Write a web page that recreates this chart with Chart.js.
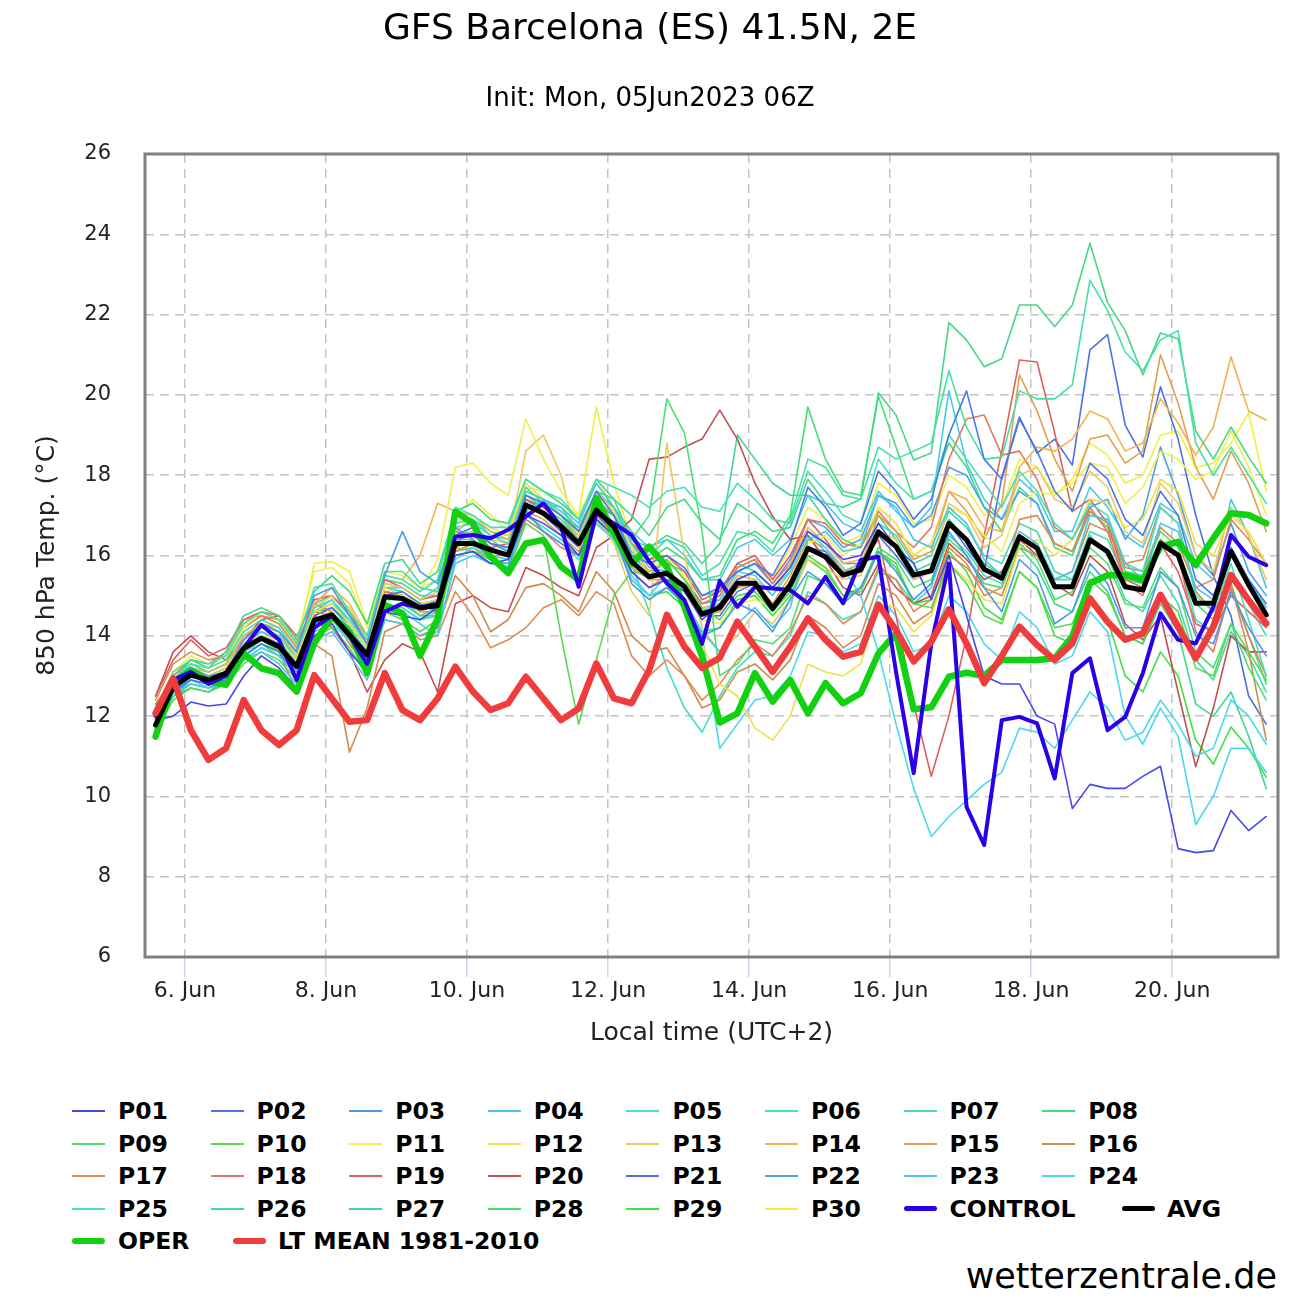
<!DOCTYPE html>
<html>
<head>
<meta charset="utf-8">
<title>GFS Barcelona ensemble</title>
<script src="https://cdn.jsdelivr.net/npm/chart.js@4.4.0/dist/chart.umd.min.js"></script>
<style>
  body { margin: 0; background: #fff; font-family: "DejaVu Sans", sans-serif; }
  #wrap { position: relative; width: 1300px; height: 1300px; overflow: hidden; }
  #chart { position: absolute; left: 0; top: 0; }
  .item { position: absolute; height: 34px; line-height: 34px; font-size: 23.5px; font-weight: bold; color: #000; white-space: nowrap; }
  .item i { position: absolute; left: 0; width: 33px; }
  .item span { position: absolute; left: 46px; top: 0; }
  #brand { position: absolute; right: 23px; top: 1256px; font-size: 35px; line-height: 40px; color: #000; }
</style>
</head>
<body>
<div id="wrap">
  <canvas id="chart" width="1300" height="1060"></canvas>
  <div id="legend"></div>
  <div id="brand">wetterzentrale.de</div>
</div>
<script>
// hours after 6 Jun 00:00 local time (UTC+2), one step every 6 h
const HOURS = [-10,-4,2,8,14,20,26,32,38,44,50,56,62,68,74,80,86,92,98,104,110,116,122,128,134,140,146,152,158,164,170,176,
  182,188,194,200,206,212,218,224,230,236,242,248,254,260,266,272,278,284,290,296,302,308,314,320,326,332,338,344,350,356,362,368];
const TICK_HOURS = [0, 48, 96, 144, 192, 240, 288, 336];
const TICK_LABELS = ['6. Jun', '8. Jun', '10. Jun', '12. Jun', '14. Jun', '16. Jun', '18. Jun', '20. Jun'];
const Y_MIN = 6, Y_MAX = 26, Y_STEP = 2;

// ensemble members, 850 hPa temperature (°C)
const P01 = [11.9,12.0,12.35,12.25,12.3,13.0,13.5,13.2,12.7,14.0,14.3,13.6,13.1,14.6,14.5,14.4,
  14.7,16.0,16.1,15.8,15.9,17.0,16.8,16.5,16.0,16.9,16.5,15.6,15.2,15.4,15.1,14.4,
  14.8,15.4,15.6,15.2,15.7,16.6,16.3,15.9,16.0,16.8,16.2,15.8,14.9,16.0,14.5,13.0,
  12.8,12.8,12.0,11.8,9.7,10.3,10.2,10.2,10.5,10.75,8.7,8.6,8.65,9.65,9.15,9.5];
const P02 = [11.9,12.6,12.9,12.8,12.9,13.5,13.8,13.6,13.0,14.2,14.5,14.1,13.6,15.0,15.1,14.8,
  14.6,16.5,16.7,16.3,16.2,17.5,17.3,17.0,16.6,17.6,17.0,16.0,15.8,16.0,15.7,15.0,
  15.2,15.6,15.8,15.5,16.3,17.7,17.2,16.5,16.8,18.1,17.6,16.9,17.4,19.0,20.1,18.4,
  17.9,19.4,18.6,17.6,17.1,18.3,17.9,16.9,16.5,17.6,17.0,15.4,15.0,16.2,15.4,14.8];
const P03 = [12.1,12.8,13.2,13.0,13.1,13.9,14.3,14.1,13.6,15.0,15.2,14.5,13.8,15.5,16.6,15.6,
  15.3,16.7,16.4,15.9,15.7,17.1,16.6,16.3,16.0,17.2,16.6,15.3,14.9,15.2,14.8,14.0,
  14.2,14.8,14.6,14.1,14.9,15.6,15.3,14.8,15.2,16.1,15.6,14.9,15.3,16.6,16.0,15.2,
  14.6,15.9,15.5,14.3,14.6,15.8,15.3,14.2,14.2,15.6,15.2,14.0,13.8,15.1,14.2,13.5];
const P04 = [11.7,12.6,12.8,12.7,12.9,13.4,13.6,13.3,12.8,13.9,14.1,13.5,12.9,14.4,14.3,14.0,
  14.1,15.8,16.0,15.8,15.8,17.1,17.4,17.2,16.8,17.8,17.2,16.3,15.7,15.6,14.9,14.1,
  13.6,14.3,14.7,14.2,14.7,16.4,16.6,16.1,16.2,17.5,17.2,16.4,16.2,17.2,16.8,15.9,
  15.5,16.6,16.3,15.4,15.6,17.0,16.9,15.8,15.4,16.8,16.6,15.2,14.9,16.1,15.4,14.7];
const P05 = [11.6,12.5,12.9,12.7,12.8,13.4,13.7,13.5,13.0,14.1,14.3,13.9,13.4,14.7,14.6,14.3,
  14.0,15.9,16.2,16.0,15.9,17.0,16.7,16.4,16.0,16.8,16.4,15.4,15.0,15.5,15.2,14.6,
  14.9,15.6,15.5,15.0,15.6,16.6,16.2,15.7,15.0,13.6,11.8,10.2,9.0,9.5,9.9,10.3,
  10.6,11.7,11.6,11.2,11.9,12.6,12.2,11.4,11.6,12.4,11.8,11.0,11.2,12.4,12.0,11.3];
const P06 = [11.8,12.9,13.3,13.2,13.4,14.1,14.4,14.2,13.6,14.7,14.9,14.4,13.9,15.5,15.4,15.1,
  15.4,17.2,17.0,16.7,16.7,17.9,17.6,17.4,16.9,17.9,17.7,17.5,17.2,17.6,17.7,17.2,
  17.1,17.8,17.4,16.9,16.8,18.1,17.6,17.0,16.8,18.4,17.8,17.4,17.6,19.0,18.4,17.8,
  17.2,18.1,17.6,16.8,16.4,17.3,17.0,15.8,15.6,17.2,16.8,15.0,14.6,15.8,14.4,13.0];
const P07 = [12.2,13.1,13.4,13.3,13.5,14.3,14.6,14.4,13.8,15.2,15.3,14.6,14.0,15.6,15.6,15.2,
  15.1,16.8,16.9,16.5,16.3,17.6,17.4,17.0,16.4,17.4,17.0,16.4,16.0,16.4,16.2,15.5,
  15.8,16.6,16.5,16.1,16.9,18.4,18.2,17.5,17.4,18.7,18.4,18.6,18.8,20.6,19.2,18.4,
  18.45,20.1,19.9,19.9,20.25,22.86,22.1,21.07,20.6,21.37,21.6,18.8,18.0,18.7,18.0,17.3];
const P08 = [12.0,12.9,13.4,13.2,13.6,14.5,14.7,14.5,13.9,15.1,15.5,15.1,14.3,15.8,15.9,15.3,
  15.6,17.1,17.3,16.9,16.8,17.9,17.6,17.3,16.9,17.9,17.4,17.0,16.5,17.2,17.4,16.8,
  16.4,17.3,17.0,16.6,16.7,17.9,17.3,17.2,17.4,20.05,19.5,18.38,18.55,21.8,21.37,20.7,
  20.9,22.24,22.24,21.7,22.24,23.78,22.3,21.6,20.5,21.54,21.4,19.1,18.4,19.2,18.45,17.8];
const P09 = [11.5,12.6,12.9,12.8,13.0,13.6,13.9,13.6,13.2,14.4,14.4,13.9,13.3,14.7,14.8,14.5,
  14.5,16.2,16.4,16.1,16.0,17.2,17.3,17.2,16.6,17.6,17.4,16.4,17.0,19.9,19.05,16.6,
  13.0,13.3,13.9,13.8,14.2,15.5,15.3,14.9,15.2,16.2,15.9,15.2,15.4,16.4,16.0,15.3,
  15.2,16.3,15.9,14.9,15.1,16.2,15.8,14.8,14.7,15.7,15.2,13.6,13.2,14.3,13.2,12.4];
const P10 = [11.6,12.4,12.7,12.6,12.8,13.3,13.6,13.4,12.9,14.0,14.2,13.7,13.0,14.6,14.4,14.1,
  14.4,16.0,16.1,15.9,15.6,16.8,16.5,14.0,11.8,13.4,15.0,15.6,15.5,15.9,15.4,14.7,
  14.4,15.0,15.1,14.6,15.1,16.0,15.7,15.0,15.1,16.1,15.8,14.8,14.7,15.8,15.3,14.5,
  14.3,15.6,15.2,14.2,14.3,15.4,15.0,14.0,13.8,15.0,14.6,13.2,13.0,14.3,13.6,12.9];
const P11 = [12.1,13.1,13.5,13.3,13.5,14.2,14.6,14.4,13.9,15.6,15.7,15.3,14.2,15.5,15.4,15.1,
  15.9,18.2,18.3,17.8,17.5,19.4,18.4,17.6,17.0,17.9,17.2,16.2,15.8,15.7,15.1,14.4,
  14.3,14.8,14.9,14.7,15.4,16.3,16.5,16.0,16.3,17.2,16.8,16.0,16.3,17.2,17.0,16.5,
  16.1,17.3,17.6,17.5,17.8,18.3,18.2,17.3,17.7,18.6,18.4,17.9,18.1,19.1,18.2,17.0];
const P12 = [11.9,12.8,13.2,13.0,13.1,13.8,14.0,13.9,13.4,14.6,14.8,14.3,13.7,15.2,15.0,14.8,
  14.9,16.6,17.0,16.7,16.5,17.8,17.4,17.0,16.6,17.6,17.1,16.2,15.5,15.6,14.8,13.8,
  12.8,12.5,11.7,11.4,12.0,13.3,13.1,13.0,13.3,14.8,14.7,14.1,14.5,15.8,15.4,14.9,
  14.8,16.2,16.4,16.0,16.4,17.4,17.3,16.7,16.9,17.9,17.6,16.3,16.0,17.0,16.6,15.8];
const P13 = [12.0,12.7,13.1,13.0,13.2,13.9,14.2,14.1,13.5,14.7,15.0,14.7,13.9,15.3,15.2,14.9,
  15.1,16.4,16.6,16.4,16.3,18.6,19.0,18.0,16.2,17.0,16.3,15.1,14.5,18.8,16.0,14.2,
  13.6,14.0,14.6,14.3,14.9,15.9,15.7,15.4,15.5,16.6,16.4,15.4,15.6,17.3,17.0,16.2,
  16.5,18.0,18.2,17.4,17.2,18.1,17.7,16.6,16.3,17.8,17.3,16.0,15.6,17.2,16.5,15.4];
const P14 = [12.2,12.9,13.2,13.1,13.3,14.0,14.3,14.2,13.6,14.8,15.2,14.8,14.0,15.5,15.4,16.0,
  17.3,17.1,17.0,16.6,16.4,17.5,17.3,17.0,16.5,17.5,17.1,16.2,15.6,15.9,15.4,14.7,
  14.8,15.5,15.4,15.0,15.8,16.7,16.3,15.8,15.9,17.2,16.8,16.0,16.3,17.6,17.4,16.7,
  16.6,18.2,18.7,18.6,18.9,19.6,19.4,18.6,18.8,19.9,19.3,18.5,19.2,20.95,19.6,19.37];
const P15 = [12.0,12.8,13.0,12.9,13.0,13.6,13.9,13.7,13.2,14.4,14.6,14.0,13.4,15.0,14.9,14.6,
  14.6,16.2,16.1,16.0,16.0,17.1,16.9,16.5,16.1,16.9,16.6,15.7,15.4,15.4,15.1,14.5,
  14.6,15.2,15.3,14.8,15.5,16.4,16.2,15.6,15.7,17.0,16.6,15.9,16.1,17.6,17.1,16.4,
  17.3,20.5,19.6,18.4,17.6,18.9,19.0,18.3,18.6,21.0,19.8,18.2,17.4,18.6,17.8,16.6];
const P16 = [12.3,12.9,13.1,12.8,12.9,13.7,14.0,13.6,12.6,13.8,13.5,11.1,12.2,14.1,14.3,14.0,
  14.2,15.5,15.0,14.1,14.4,15.2,15.3,15.0,14.6,15.6,15.1,14.0,13.6,13.7,13.0,12.2,
  12.4,13.1,13.3,12.9,13.4,14.5,14.2,13.7,14.0,15.3,15.0,14.3,14.6,16.0,15.7,15.2,
  15.0,16.2,16.0,15.4,15.6,16.8,16.6,15.8,15.9,17.2,16.8,15.1,14.6,15.3,13.6,11.4];
const P17 = [12.4,13.3,13.6,13.4,13.5,14.2,14.5,14.3,13.7,14.6,14.5,13.8,13.2,14.4,14.3,13.9,
  14.0,15.1,14.5,13.7,13.9,14.2,14.7,14.9,14.5,15.1,14.8,13.5,13.0,13.4,13.0,12.4,
  12.8,13.4,13.8,13.5,14.1,15.0,14.8,14.3,14.6,15.7,15.4,14.6,14.9,16.2,15.8,15.0,
  15.2,16.9,17.0,16.3,16.1,17.1,16.8,15.7,15.6,16.7,16.3,15.2,15.4,16.9,16.4,15.8];
const P18 = [12.2,13.0,13.4,13.3,13.6,14.4,14.5,14.4,13.8,14.8,14.6,14.0,13.5,15.1,15.0,14.6,
  14.8,16.1,16.3,16.0,15.9,16.9,16.6,16.2,16.0,16.8,16.4,15.6,15.2,15.5,15.3,14.8,
  15.0,15.7,15.9,15.3,15.8,16.9,16.8,16.3,16.2,17.1,16.6,16.2,16.7,18.4,19.4,19.5,
  18.5,18.6,17.9,16.7,16.4,17.2,16.6,15.3,15.0,16.4,16.0,14.1,13.6,15.2,14.0,13.0];
const P19 = [12.5,13.4,13.9,13.5,13.7,14.4,14.6,14.5,14.0,14.9,15.0,14.6,13.8,15.4,15.2,14.9,
  15.0,16.6,16.5,16.2,16.3,17.4,17.2,16.8,16.4,17.3,17.0,16.3,15.9,16.0,15.6,14.9,
  15.1,15.8,16.0,15.4,16.0,16.9,16.4,15.8,15.8,16.4,14.5,12.3,10.5,12.0,14.0,16.5,
  18.6,20.87,20.82,19.05,17.1,17.4,16.8,15.4,15.2,16.3,15.6,14.3,14.1,15.0,14.6,14.2];
const P20 = [12.5,13.6,14.0,13.6,13.4,13.9,14.4,14.5,13.9,14.5,14.2,13.6,12.6,13.4,13.8,13.6,
  12.6,14.8,15.0,14.7,14.6,15.7,15.5,15.2,15.0,16.2,16.5,16.9,18.4,18.45,18.7,18.9,
  19.62,18.9,17.8,16.97,16.4,16.5,15.9,15.2,15.0,15.8,15.2,14.8,15.0,16.3,15.9,15.4,
  15.6,16.4,16.0,15.3,15.0,16.0,15.6,14.3,13.9,14.5,12.6,10.74,12.2,14.0,13.6,13.6];
const P21 = [11.8,12.7,13.0,12.9,13.1,13.7,14.0,13.8,13.3,14.5,14.7,14.3,13.7,15.1,15.0,14.7,
  14.9,16.4,16.5,16.2,16.0,17.3,17.0,16.6,16.2,17.0,16.6,15.8,15.4,15.6,15.2,14.5,
  14.5,15.1,15.3,14.8,15.3,16.2,16.1,15.6,15.6,16.5,16.0,15.4,15.6,16.8,16.2,15.6,
  17.95,19.45,18.55,18.9,18.25,21.12,21.5,19.25,18.45,20.2,18.9,17.0,15.5,14.5,12.5,11.8];
const P22 = [11.7,12.5,12.7,12.6,12.9,13.4,13.7,13.5,13.1,14.3,14.5,14.0,13.5,15.0,14.9,14.6,
  14.9,16.3,16.6,16.3,16.1,17.4,17.1,16.8,16.3,17.3,16.8,16.0,15.6,15.9,15.4,14.8,
  14.9,15.6,15.8,15.3,15.9,16.9,16.7,16.2,16.4,17.5,17.3,16.7,17.0,18.2,18.0,17.2,
  16.9,17.6,17.3,16.3,16.1,17.2,17.4,16.4,17.0,18.7,17.5,16.0,15.5,16.8,15.6,15.0];
const P23 = [11.9,12.8,13.1,13.0,13.2,13.8,14.1,13.9,13.4,14.6,14.8,14.4,13.8,15.2,15.2,14.9,
  15.2,16.7,16.8,16.5,16.4,17.6,17.4,17.1,16.7,17.5,17.2,16.6,16.2,16.4,16.0,15.4,
  15.4,16.2,16.4,16.0,16.4,17.5,17.3,16.8,16.6,17.6,17.1,16.7,17.2,20.1,18.3,17.4,
  16.9,17.9,17.5,16.6,16.6,17.7,17.2,16.5,16.2,17.3,17.0,15.8,15.4,17.4,16.5,15.2];
const P24 = [11.6,12.6,12.9,12.8,13.0,13.6,13.8,13.6,13.1,14.2,14.4,14.0,13.4,14.8,14.7,14.4,
  14.6,16.0,16.1,15.8,15.7,16.9,16.6,16.3,15.9,16.8,16.4,15.5,15.0,15.2,14.8,14.0,
  11.2,11.8,12.4,12.5,13.0,14.1,14.0,13.6,13.8,15.0,14.5,13.6,13.8,15.0,14.6,13.8,
  13.4,14.6,14.2,13.3,13.5,14.6,14.1,12.0,11.3,12.2,11.5,9.3,10.0,11.2,11.2,10.6];
const P25 = [11.8,12.8,13.2,13.1,13.3,13.9,14.2,14.0,13.4,14.6,14.9,14.3,13.7,15.2,15.1,14.8,
  14.8,16.5,16.7,16.4,16.1,17.4,17.1,16.7,16.3,17.4,17.0,15.8,14.6,13.2,12.2,11.6,
  12.5,13.2,13.6,13.5,14.0,15.1,14.8,14.4,14.6,15.6,15.4,14.8,15.2,16.5,16.1,15.5,
  15.3,16.4,16.3,15.4,15.4,16.6,16.4,15.4,15.3,16.4,16.0,14.4,14.1,15.5,14.8,14.0];
const P26 = [11.7,12.6,13.0,12.9,13.1,13.8,14.1,13.9,13.3,14.5,14.7,14.2,13.5,14.9,14.9,14.5,
  14.7,16.4,16.4,16.1,16.0,17.2,17.1,16.8,16.3,17.2,17.0,16.1,15.6,15.8,15.6,15.0,
  15.1,15.8,15.6,15.2,15.6,16.5,16.1,15.6,15.8,16.8,16.5,15.8,16.0,17.1,16.7,16.0,
  15.8,16.8,16.6,15.6,15.4,16.5,16.0,14.9,14.6,15.5,14.8,13.4,12.9,14.1,13.5,12.6];
const P27 = [12.0,12.9,13.3,13.1,13.3,14.0,14.3,14.1,13.5,14.8,15.0,14.5,13.9,15.4,15.3,15.0,
  15.0,16.6,16.9,16.6,16.5,17.7,17.3,17.0,16.7,17.6,17.2,16.4,16.2,16.5,16.3,15.8,
  16.3,19.0,18.4,17.8,17.5,17.5,16.9,16.4,16.2,17.0,16.4,15.6,15.8,16.9,16.4,15.8,
  15.5,16.2,15.7,14.8,14.6,15.6,15.1,14.0,13.8,14.8,14.1,12.3,12.0,12.6,11.5,10.2];
const P28 = [11.7,12.7,13.1,13.0,13.2,13.9,14.3,14.1,13.4,14.6,14.7,14.2,13.6,15.1,15.0,14.8,
  14.9,16.5,16.6,16.3,16.2,17.5,17.2,16.9,16.4,17.3,17.0,16.2,15.9,16.2,15.9,15.4,
  15.5,16.4,16.6,16.3,17.0,19.7,18.4,17.6,17.5,19.96,18.7,17.4,17.6,18.8,18.2,17.2,
  16.6,17.7,17.3,16.2,16.0,17.1,16.7,15.6,15.5,16.6,16.2,14.8,14.4,15.3,14.0,12.8];
const P29 = [11.6,12.5,12.8,12.7,12.9,13.5,13.8,13.5,13.0,14.2,14.4,13.9,13.3,14.8,14.7,14.4,
  14.5,16.1,16.2,15.9,15.8,17.0,16.7,16.4,16.0,16.9,16.4,15.4,15.0,15.1,14.7,14.1,
  14.2,14.9,15.0,14.5,15.0,15.9,15.6,15.0,15.2,16.1,15.7,14.8,14.9,16.1,15.6,14.7,
  14.4,15.6,15.2,14.0,13.8,15.0,14.4,13.0,12.6,13.6,13.0,11.4,10.8,11.73,11.2,10.48];
const P30 = [12.0,13.0,13.4,13.2,13.4,14.2,14.5,14.3,13.7,15.8,15.85,15.6,14.3,15.6,15.5,15.2,
  15.4,17.0,17.4,17.0,16.6,17.7,17.6,17.3,17.0,19.7,17.8,16.4,15.8,16.0,15.5,14.8,
  15.0,15.7,15.9,15.4,16.2,17.2,16.9,16.3,16.5,17.8,17.5,16.8,16.9,18.0,17.7,17.0,
  17.2,18.4,18.2,17.5,17.9,18.8,18.5,17.8,18.0,19.0,19.1,18.2,18.3,18.8,19.55,17.6];

const CONTROL = [12.0,12.9,13.1,12.8,13.0,13.7,14.27,13.9,12.9,14.2,14.5,14.0,13.3,14.6,14.8,14.7,
  14.8,16.47,16.51,16.43,16.64,16.97,17.3,16.72,15.22,17.05,16.8,16.51,15.85,15.31,14.89,13.8,
  15.37,14.72,15.22,15.18,15.14,14.81,15.47,14.81,15.89,15.97,13.1,10.58,13.8,15.8,9.74,8.79,
  11.9,11.98,11.82,10.45,13.07,13.44,11.65,11.98,13.07,14.56,13.9,13.81,14.72,16.51,15.97,15.76];
const AVG = [11.78,12.73,13.02,12.9,13.07,13.69,13.94,13.73,13.23,14.39,14.52,14.02,13.52,14.97,14.93,14.7,
  14.75,16.3,16.3,16.14,16.01,17.26,17.05,16.72,16.3,17.13,16.72,15.85,15.47,15.56,15.22,14.54,
  14.7,15.31,15.31,14.68,15.27,16.18,15.97,15.51,15.64,16.59,16.22,15.51,15.62,16.8,16.39,15.66,
  15.43,16.47,16.18,15.22,15.22,16.39,16.1,15.22,15.14,16.3,16.01,14.81,14.81,16.1,15.27,14.52];
const OPER = [11.49,12.82,13.15,12.86,12.78,13.56,13.19,13.07,12.61,13.81,14.48,14.1,13.07,14.77,14.56,13.5,
  14.43,17.09,16.8,15.97,15.56,16.3,16.39,15.72,15.39,17.42,16.55,15.8,16.22,15.72,14.72,13.48,
  11.84,12.07,13.07,12.36,12.9,12.07,12.82,12.32,12.57,13.56,14.06,12.17,12.22,12.98,13.08,13.0,
  13.4,13.4,13.4,13.44,13.98,15.31,15.51,15.51,15.39,16.22,16.34,15.76,16.43,17.05,17.01,16.8];
const LT_MEAN = [12.07,12.94,11.65,10.91,11.2,12.4,11.65,11.28,11.65,13.02,12.44,11.86,11.9,13.07,12.15,11.9,
  12.44,13.23,12.61,12.15,12.32,12.98,12.44,11.9,12.19,13.31,12.44,12.32,13.15,14.52,13.73,13.2,
  13.45,14.35,13.73,13.1,13.73,14.43,13.9,13.48,13.6,14.78,14.14,13.36,13.85,14.66,13.81,12.82,
  13.5,14.23,13.77,13.4,13.81,14.93,14.35,13.9,14.06,15.02,14.23,13.44,14.23,15.51,14.89,14.31];

const MEMBERS = [P01,P02,P03,P04,P05,P06,P07,P08,P09,P10,P11,P12,P13,P14,P15,P16,P17,P18,P19,P20,
  P21,P22,P23,P24,P25,P26,P27,P28,P29,P30];
const MEMBER_COLORS = ['#4848e6','#4a78e8','#4a9ae8','#4ac4ea','#4adaea','#46e0ba','#46e0a4','#46d888','#4ae070','#5ad850',
  '#f0f050','#f0e048','#f0c860','#f0b450','#e0a050','#d08c4c','#e08c50','#e07a60','#dc6060','#c05050',
  '#4a72e2','#4aa2ea','#4ac8ea','#4ad8f0','#42e0c2','#42d8b0','#42d892','#42e072','#42e042','#f0f040'];
const MEMBER_NAMES = MEMBERS.map((_, i) => 'P' + String(i + 1).padStart(2, '0'));

const MAIN = [
  { name: 'CONTROL', data: CONTROL, color: '#2a00e8', width: 4, order: 3 },
  { name: 'AVG', data: AVG, color: '#000000', width: 5, order: 2 },
  { name: 'OPER', data: OPER, color: '#11d111', width: 6.5, order: 4 },
  { name: 'LT MEAN 1981-2010', data: LT_MEAN, color: '#f03c3c', width: 6.5, order: 1 }
];

const datasets = MEMBERS.map((vals, i) => ({
  label: MEMBER_NAMES[i], data: vals, borderColor: MEMBER_COLORS[i], borderWidth: 1.6, order: 10 + i
})).concat(MAIN.map(m => ({
  label: m.name, data: m.data, borderColor: m.color, borderWidth: m.width, order: m.order
})));

// grey frame round the plot area
const frame = {
  id: 'frame',
  afterDraw(chart) {
    const { ctx, chartArea: a } = chart;
    ctx.save();
    ctx.strokeStyle = '#7f7f7f';
    ctx.lineWidth = 3;
    ctx.strokeRect(a.left, a.top, a.right - a.left, a.bottom - a.top);
    ctx.restore();
  }
};

Chart.defaults.font.family = '"DejaVu Sans", sans-serif';
Chart.defaults.color = '#222';

new Chart(document.getElementById('chart'), {
  type: 'line',
  data: { labels: HOURS, datasets },
  options: {
    responsive: false,
    animation: false,
    events: [],
    layout: { padding: { left: 22, right: 22, top: 0, bottom: 0 } },
    elements: { point: { radius: 0 }, line: { tension: 0, borderJoinStyle: 'round', borderCapStyle: 'round' } },
    plugins: {
      legend: { display: false },
      tooltip: { enabled: false },
      title: { display: true, text: 'GFS Barcelona (ES) 41.5N, 2E', color: '#000',
        font: { size: 36, weight: 'normal' }, padding: { top: 8.4, bottom: 12 } },
      subtitle: { display: true, text: 'Init: Mon, 05Jun2023 06Z', color: '#000',
        font: { size: 26, weight: 'normal' }, padding: { top: 19.8, bottom: 39.4 } }
    },
    scales: {
      x: {
        type: 'linear', min: -13.6, max: 372,
        afterBuildTicks: s => { s.ticks = TICK_HOURS.map(v => ({ value: v })); },
        afterFit: s => { s.height = 103; },
        ticks: { autoSkip: false, maxRotation: 0, padding: 1, color: '#222', font: { size: 22 },
          callback: v => TICK_LABELS[TICK_HOURS.indexOf(v)] },
        grid: { color: '#c4c4c4', lineWidth: 1.5, tickLength: 20, tickColor: '#ccd6eb', tickWidth: 1.5 },
        border: { display: false, dash: [9, 6] },
        title: { display: true, text: 'Local time (UTC+2)', color: '#222', font: { size: 25 }, padding: { top: 0, bottom: 12 } }
      },
      y: {
        min: Y_MIN, max: Y_MAX,
        afterFit: s => { s.width = 123; },
        ticks: { stepSize: Y_STEP, padding: 34, color: '#222', font: { size: 21 } },
        grid: { color: '#c4c4c4', lineWidth: 1.5, drawTicks: false },
        border: { display: false, dash: [9, 6] },
        title: { display: true, text: '850 hPa Temp. (°C)', color: '#222', font: { size: 25 }, padding: { top: 10, bottom: 0 } }
      }
    }
  },
  plugins: [frame]
});

// legend below the chart, 8 columns
const legend = document.getElementById('legend');
function addItem(name, color, width, left, top, textOffset) {
  const d = document.createElement('div');
  d.className = 'item';
  d.style.left = left + 'px';
  d.style.top = top + 'px';
  const line = document.createElement('i');
  line.style.height = width + 'px';
  line.style.top = (17 - width / 2) + 'px';
  line.style.background = color;
  line.style.borderRadius = width > 2 ? (width / 2) + 'px' : '0';
  const t = document.createElement('span');
  t.textContent = name;
  t.style.left = textOffset + 'px';
  d.appendChild(line);
  d.appendChild(t);
  legend.appendChild(d);
}
const COL_W = 138.6, ROW_H = 32.5, LEFT0 = 72, TOP0 = 1111 - 17;
const gridItems = MEMBER_NAMES.map((n, i) => ({ name: n, color: MEMBER_COLORS[i], width: 2 }))
  .concat([{ name: 'CONTROL', color: MAIN[0].color, width: 5 }]);
gridItems.forEach((it, k) => {
  addItem(it.name, it.color, it.width, LEFT0 + (k % 8) * COL_W, TOP0 + Math.floor(k / 8) * ROW_H, 46);
});
addItem('AVG', MAIN[1].color, 5, 1122, TOP0 + 3 * ROW_H, 45);
addItem('OPER', MAIN[2].color, 6, LEFT0, TOP0 + 4 * ROW_H, 46);
addItem('LT MEAN 1981-2010', MAIN[3].color, 6, 233, TOP0 + 4 * ROW_H, 45);
</script>
</body>
</html>
